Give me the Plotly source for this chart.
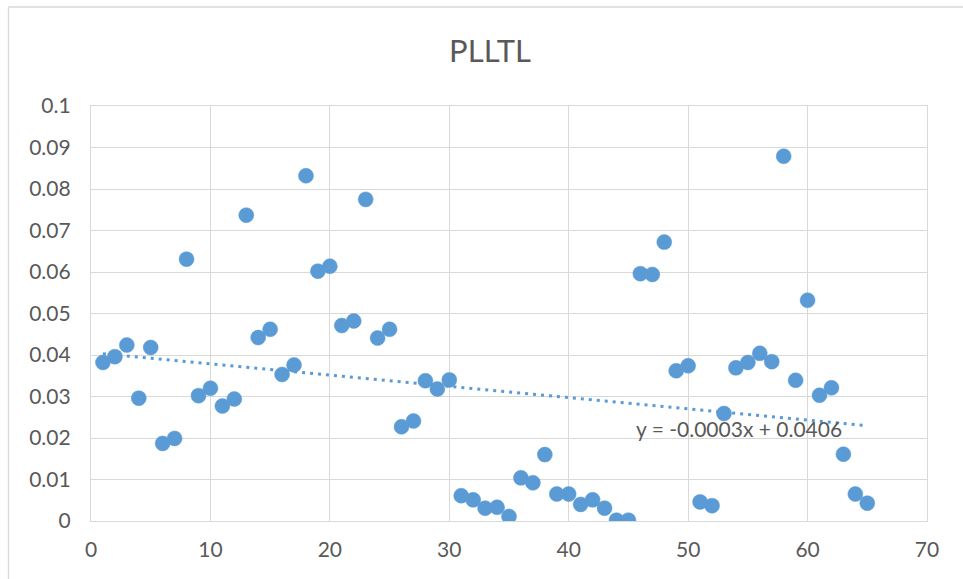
import numpy as np
import plotly.graph_objects as go

# ---- data ----
x_vals = [1, 2, 3, 4, 5, 6, 7, 8, 9, 10, 11, 12, 13, 14, 15, 16, 17, 18, 19, 20,
          21, 22, 23, 24, 25, 26, 27, 28, 29, 30, 31, 32, 33, 34, 35, 36, 37, 38, 39, 40,
          41, 42, 43, 44, 45, 46, 47, 48, 49, 50, 51, 52, 53, 54, 55, 56, 57, 58, 59, 60,
          61, 62, 63, 64, 65]
y_vals = [0.0382, 0.0396, 0.0424, 0.0296, 0.0418, 0.0187, 0.0199, 0.0631, 0.0302, 0.0320,
          0.0277, 0.0294, 0.0737, 0.0442, 0.0462, 0.0353, 0.0376, 0.0832, 0.0602, 0.0614,
          0.0471, 0.0482, 0.0775, 0.0441, 0.0462, 0.0227, 0.0241, 0.0338, 0.0318, 0.0340,
          0.0061, 0.0051, 0.0031, 0.0033, 0.0011, 0.0104, 0.0092, 0.0160, 0.0065, 0.0065,
          0.0040, 0.0051, 0.0031, 0.0002, 0.0002, 0.0596, 0.0594, 0.0672, 0.0362, 0.0374,
          0.0046, 0.0037, 0.0259, 0.0369, 0.0382, 0.0404, 0.0384, 0.0879, 0.0339, 0.0532,
          0.0303, 0.0321, 0.0161, 0.0065, 0.0043]
title_text = "PLLTL"
trend_label = "y = -0.0003x + 0.0406"
x_ticks = [0, 10, 20, 30, 40, 50, 60, 70]
y_ticks = [0, 0.01, 0.02, 0.03, 0.04, 0.05, 0.06, 0.07, 0.08, 0.09, 0.1]

# ---- styling ----
BLUE = "#5B9BD5"
TEXT = "#595959"
GRID = "#D9D9D9"
FONT = "Lato, 'Liberation Sans', sans-serif"

# linear trendline (least squares fit of the data)
slope, intercept = np.polyfit(x_vals, y_vals, 1)
tx = [min(x_vals), max(x_vals)]
ty = [slope * v + intercept for v in tx]

fig = go.Figure()
fig.add_trace(go.Scatter(
    x=tx, y=ty, mode="lines",
    line=dict(color=BLUE, width=3, dash="3px,5px"),
    hoverinfo="skip", showlegend=False,
))
fig.add_trace(go.Scatter(
    x=x_vals, y=y_vals, mode="markers",
    marker=dict(color=BLUE, size=15, line=dict(color=BLUE, width=0.5)),
    showlegend=False,
))

fig.add_annotation(
    x=45.5, y=0.0224, xref="x", yref="y",
    text=trend_label, showarrow=False,
    xanchor="left", yanchor="middle",
    font=dict(family=FONT, size=21, color=TEXT),
)

W, H = 963, 579
L, R, T, B = 91, 36, 106, 58
pw, ph = W - L - R, H - T - B

# outer chart border (cropped by the picture edge)
fig.add_shape(
    type="rect", xref="paper", yref="paper",
    x0=(8.5 - L) / pw, x1=(975 - L) / pw,
    y0=(H - B - 590) / ph, y1=(H - B - 7) / ph,
    line=dict(color=GRID, width=1.3), fillcolor="rgba(0,0,0,0)", layer="below",
)

fig.update_layout(
    width=W, height=H,
    margin=dict(l=L, r=R, t=T, b=B, pad=0),
    paper_bgcolor="white", plot_bgcolor="white",
    font=dict(family=FONT, size=21, color=TEXT),
    title=dict(
        text=title_text, x=490 / W, xanchor="center",
        y=1 - 51 / H, yanchor="middle", yref="container",
        font=dict(family=FONT, size=31, color=TEXT),
    ),
)
fig.update_xaxes(
    range=[0, 70], tickvals=x_ticks,
    showgrid=True, gridcolor=GRID, gridwidth=1,
    zeroline=False, showline=True, linecolor=GRID, linewidth=1.3, mirror=True,
    ticks="outside", ticklen=10, tickcolor="rgba(0,0,0,0)",
    tickfont=dict(family=FONT, size=21, color=TEXT),
)
fig.update_yaxes(
    range=[0, 0.1], tickvals=y_ticks,
    showgrid=True, gridcolor=GRID, gridwidth=1,
    zeroline=False, showline=True, linecolor=GRID, linewidth=1.3, mirror=True,
    ticks="outside", ticklen=15, tickcolor="rgba(0,0,0,0)",
    tickfont=dict(family=FONT, size=21, color=TEXT),
)

fig.write_html("out.html")
